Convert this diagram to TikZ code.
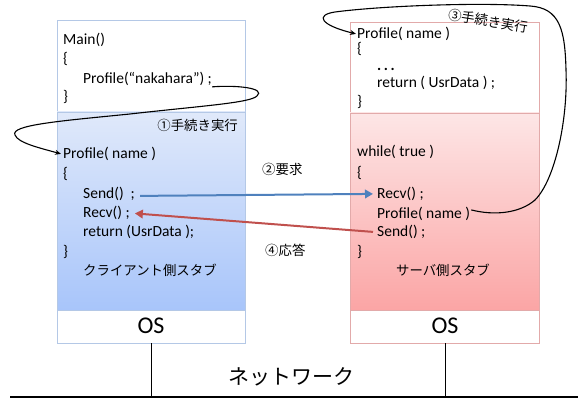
\documentclass[tikz,border=0pt]{standalone}
\usepackage{fontspec}
\setmainfont{Carlito}
\newfontfamily\jp{Noto Sans CJK JP}
\usetikzlibrary{arrows.meta}

\definecolor{blueedge}{HTML}{B4C8E6}
\definecolor{pinkedge}{HTML}{E2AAAA}
\definecolor{bluetop}{HTML}{E0E9FA}
\definecolor{bluebot}{HTML}{A8C5FA}
\definecolor{pinktop}{HTML}{FDE6E6}
\definecolor{pinkbot}{HTML}{FBA5A5}
\definecolor{reqblue}{HTML}{4F81BD}
\definecolor{resred}{HTML}{C0504D}

\tikzset{
  code/.style={anchor=base west, inner sep=0pt, font=\fontsize{15.5}{18}\selectfont},
  jpcode/.style={inner sep=0pt, font=\fontsize{13.4}{16}\selectfont\jp},
  osbox/.style={draw=#1, fill=white, line width=0.6pt},
  panel/.style={draw=#1, line width=0.6pt},
  callcurve/.style={line width=1.1pt, -{Stealth[length=6pt,width=5pt]}},
  msgarrow/.style={line width=2pt, draw=#1, -{Triangle[length=8pt,width=8.5pt]}},
  wire/.style={line width=1pt},
}

\begin{document}
\begin{tikzpicture}[x=1pt, y=-1pt]
\useasboundingbox (0,0) rectangle (578,398);

% client side
\draw[osbox=blueedge] (57,20) rectangle (245,112);
\shade[top color=bluetop, bottom color=bluebot] (57,112) rectangle (245,310);
\draw[panel=blueedge] (57,112) rectangle (245,310);
\draw[osbox=blueedge] (57,310) rectangle (245,343);
\node[inner sep=0pt, font=\fontsize{24}{26}\selectfont] (los) at (151,326) {OS};
\coordinate (losb) at (151,343);

% server side
\draw[osbox=pinkedge] (350,22) rectangle (539,113);
\shade[top color=pinktop, bottom color=pinkbot] (350,113) rectangle (539,310);
\draw[panel=pinkedge] (350,113) rectangle (539,310);
\draw[osbox=pinkedge] (350,310) rectangle (539,343);
\node[inner sep=0pt, font=\fontsize{24}{26}\selectfont] (ros) at (445,326) {OS};
\coordinate (rosb) at (445,343);

% network
\coordinate (netl) at (10,397);
\coordinate (netr) at (578,397);
\coordinate (lnet) at (151,397);
\coordinate (rnet) at (445,397);
\draw[wire, line width=1.4pt] (netl) -- (netr);
\draw[wire] (losb) -- (lnet);
\draw[wire] (rosb) -- (rnet);
\node[inner sep=0pt, font=\fontsize{21}{24}\selectfont\jp] (net) at (291,377) {ネットワーク};

% client code
\node[code] (mainf) at (63,44.5) {Main()};
\node[code] (mob) at (63,64) {\{};
\node[code] (mcall) at (83,83.5) {Profile(“nakahara”) ;};
\node[code] (mcb) at (63,101.5) {\}};
\node[jpcode, anchor=base east] (step1) at (238,131) {①手続き実行};
\node[code] (cprof) at (63,158.5) {Profile( name )};
\node[code] (cob) at (63,179) {\{};
\node[code] (csend) at (83,198.5) {Send()\ \ ;};
\node[code] (crecv) at (83,218) {Recv() ;};
\node[code] (cret) at (83,236.5) {return (UsrData );};
\node[code] (ccb) at (63,256) {\}};
\node[jpcode, anchor=base west] (cstub) at (83,275) {クライアント側スタブ};

% server code
\node[code] (sprof) at (357,38.5) {Profile( name )};
\node[code] (sob) at (357,53.5) {\{};
\node[code, font=\fontsize{15.5}{18}\selectfont\bfseries] (sdots) at (377,71) {.\,.\,.};
\node[code] (sret) at (377,87.5) {return ( UsrData ) ;};
\node[code] (scb) at (357,107) {\}};
\node[jpcode, rotate=-9] (step3) at (488,21) {③手続き実行};
\node[code] (swhile) at (357,157) {while( true )};
\node[code] (swob) at (357,178) {\{};
\node[code] (srecv) at (377,198.5) {Recv() ;};
\node[code] (scall) at (377,218.5) {Profile( name )};
\node[code] (ssend) at (377,236.5) {Send() ;};
\node[code] (swcb) at (357,256) {\}};
\node[jpcode, anchor=base] (sstub) at (443,275) {サーバ側スタブ};

% message labels
\node[jpcode, anchor=base west] (req) at (262,175) {②要求};
\node[jpcode, anchor=base west] (res) at (265,255) {④応答};

% request and response
\draw[msgarrow=reqblue] ([xshift=5pt,yshift=-2pt]csend.east) -- ([xshift=-4pt]srecv.west);
\draw[msgarrow=resred] ([xshift=-4pt]ssend.west) -- ([xshift=5pt]crecv.east);

% local call into the client stub
\draw[callcurve] ([yshift=-1pt]mcall.south east)
  .. controls (237,85) and (266,88) .. (257,96)
  .. controls (250,103) and (200,106) .. (130,114)
  .. controls (60,121) and (10,125) .. (15,135)
  .. controls (18,143) and (40,148) .. ([xshift=-2pt]cprof.west);

% server stub calling the procedure
\draw[callcurve] ([xshift=1pt,yshift=4pt]scall.east)
  .. controls (495,216) and (520,213) .. (535,200)
  .. controls (555,180) and (568,120) .. (566,70)
  .. controls (565,30) and (560,8) .. (530,6)
  .. controls (480,2) and (380,6) .. (335,12)
  .. controls (315,15) and (320,25) .. ([xshift=-1pt]sprof.west);
\end{tikzpicture}
\end{document}
